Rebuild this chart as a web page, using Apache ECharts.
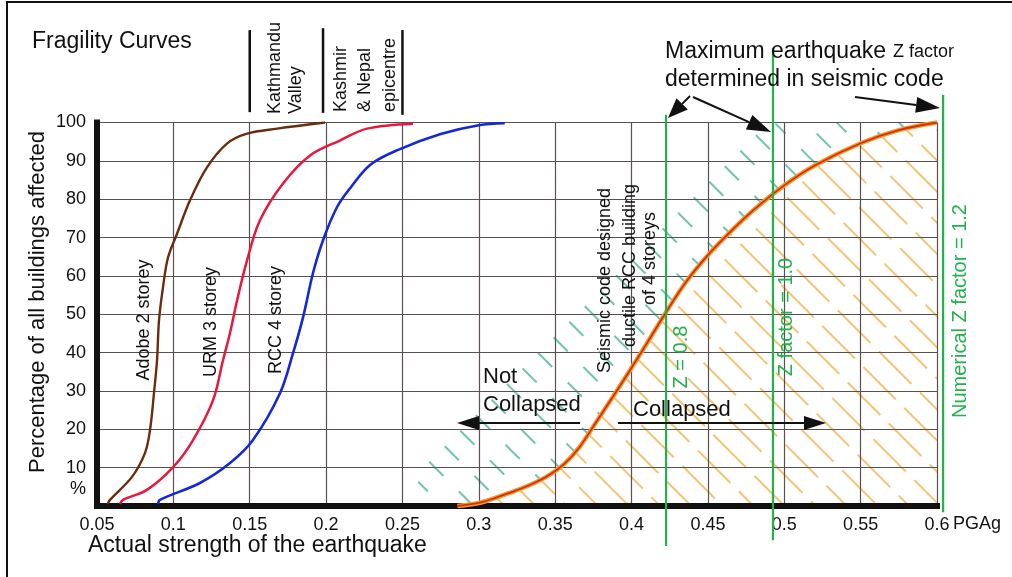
<!DOCTYPE html>
<html><head><meta charset="utf-8">
<script src="https://cdn.jsdelivr.net/npm/echarts@6/dist/echarts.min.js"></script>
<style>html,body{margin:0;padding:0;background:#fff}#c{width:1012px;height:577px}</style>
</head><body><div id="c"></div>
<script>
// ---- data (PGA g, % of buildings affected) ----
const adobe2Storey = [[0.057,0.5],[0.0585,1.6],[0.0729,7.6],[0.0814,13.8],[0.0847,19.8],[0.0873,29.4],[0.0893,38],[0.0906,48.4],[0.0932,57],[0.0965,64.8],[0.1024,71],[0.1109,79.7],[0.122,88.3],[0.1351,94.5],[0.1482,97.1],[0.1679,98.4],[0.1993,100]];
const urm3Storey = [[0.065,0.5],[0.067,1.6],[0.0827,4.2],[0.1,10.2],[0.1129,17.2],[0.126,27.6],[0.1325,38],[0.137,45],[0.1417,53.6],[0.1482,64],[0.1567,74.5],[0.1718,84.1],[0.1895,91.4],[0.209,95.3],[0.2268,98.4],[0.2569,99.7]];
const rcc4Storey = [[0.09,0.5],[0.0912,1.6],[0.1174,6],[0.1371,11.2],[0.1521,17.2],[0.1698,29.4],[0.1783,39.8],[0.1849,49.2],[0.1914,60.7],[0.198,69.3],[0.2071,77.9],[0.216,83],[0.229,89],[0.248,93],[0.275,97],[0.30,99.3],[0.317,99.8]];
const seismicRcc4 = [[0.286,0],[0.30,0.8],[0.31,2],[0.32,3.4],[0.333,5.4],[0.345,7.8],[0.356,11],[0.366,15.4],[0.377,22],[0.388,28.6],[0.399,35.4],[0.41,42.4],[0.423,50.8],[0.436,58.6],[0.45,65.4],[0.465,71.6],[0.48,77.2],[0.50,83.6],[0.52,88.8],[0.55,94.6],[0.575,98],[0.6,100]];
const notCollapsedBand = [[0.255,0],[0.27,15],[0.30,28],[0.33,38],[0.36,50],[0.38,60],[0.40,68],[0.42,78],[0.44,88],[0.47,96],[0.50,100],[0.6,100]];
// reference lines: [PGA, bottom %, top %]
const zFactorLines = [[0.4226,-10.4,102],[0.4926,-8.9,119.5],[0.604,-1.6,107.2]];
const quakeMarkers = [[0.150,102.7,124.1],[0.198,102.5,124.6],[0.250,102,124.1]];
const xTickLabels = ['0.05','0.1','0.15','0.2','0.25','0.3','0.35','0.4','0.45','0.5','0.55','0.6'];
const yTickLabels = ['','10','20','30','40','50','60','70','80','90','100'];

const FONT = "'Liberation Sans', Arial, sans-serif";
const GREEN = '#22b24c';
const INK = '#111';

function vline(color, width){
  return function(params, api){
    const p0 = api.coord([api.value(0), api.value(1)]);
    const p1 = api.coord([api.value(0), api.value(2)]);
    return {type:'line', shape:{x1:p0[0],y1:p0[1],x2:p1[0],y2:p1[1]}, style:{stroke:color, lineWidth:width}};
  };
}
function arrow(x1,y1,x2,y2,len,w){
  const a = Math.atan2(y2-y1, x2-x1);
  const bx = x2-len*Math.cos(a), by = y2-len*Math.sin(a);
  const nx = -Math.sin(a)*w, ny = Math.cos(a)*w;
  return [
    {type:'line', z:100, shape:{x1:x1,y1:y1,x2:bx,y2:by}, style:{stroke:INK, lineWidth:2}},
    {type:'polygon', z:100, shape:{points:[[x2,y2],[bx+nx,by+ny],[bx-nx,by-ny]]}, style:{fill:INK}}
  ];
}
function txt(text, x, y, size, opts){
  opts = opts || {};
  return {type:'text', z:100, x:x, y:y, rotation: opts.rot ? Math.PI/2 : 0,
    style:{text:text, fontSize:size, fontFamily:FONT, fill: opts.color || INK,
      align: opts.align || 'left', verticalAlign:'middle'}};
}

const orangeDecal = {symbol:'rect', symbolSize:1, color:'rgba(240,176,70,0.75)', backgroundColor:'#fff',
  dashArrayX:[[46,12]], dashArrayY:[2,20], rotation:Math.PI/4};
const tealDecal = {symbol:'rect', symbolSize:1, color:'rgba(50,170,145,0.7)',
  dashArrayX:[[20,22]], dashArrayY:[2,20], rotation:Math.PI/4};

const chart = echarts.init(document.getElementById('c'), null, {renderer:'canvas'});
chart.setOption({
  animation:false,
  backgroundColor:'#fff',
  grid:{left:97, right:75, top:122.5, bottom:71, containLabel:false, outerBoundsMode:'none'},
  xAxis:{type:'value', min:0.05, max:0.6, interval:0.05,
    axisLine:{show:true, lineStyle:{color:INK, width:6, cap:'square'}},
    axisTick:{show:false},
    axisLabel:{color:INK, fontSize:18, fontFamily:FONT, margin:10,
      formatter:function(v){ const i=Math.round((v-0.05)/0.05); return xTickLabels[i]; }},
    splitLine:{show:true, lineStyle:{color:'#5a5050', width:1.2}}},
  yAxis:{type:'value', min:0, max:100, interval:10,
    axisLine:{show:true, lineStyle:{color:INK, width:6, cap:'square'}},
    axisTick:{show:false},
    axisLabel:{color:INK, fontSize:18, fontFamily:FONT, margin:11,
      formatter:function(v){ return yTickLabels[Math.round(v/10)]; }},
    splitLine:{show:true, lineStyle:{color:'#5a5050', width:1.2}}},
  series:[
    {type:'line', name:'Not collapsed band', data:notCollapsedBand, z:-2, silent:true, showSymbol:false,
      smooth:0.3, lineStyle:{width:0, opacity:0, decal:tealDecal},
      itemStyle:{decal:tealDecal}, areaStyle:{color:'rgba(255,255,255,0)', opacity:1, decal:tealDecal}},
    {type:'line', name:'Collapsed area', data:seismicRcc4, z:-1, silent:true, showSymbol:false,
      smooth:0.35, lineStyle:{width:0, opacity:0, decal:orangeDecal},
      itemStyle:{decal:orangeDecal}, areaStyle:{color:'#fff', opacity:1, decal:orangeDecal}},
    {type:'line', name:'Adobe 2 storey', data:adobe2Storey, showSymbol:false, smooth:0.35,
      lineStyle:{color:'#6a2c0e', width:2.4}},
    {type:'line', name:'URM 3 storey', data:urm3Storey, showSymbol:false, smooth:0.35,
      lineStyle:{color:'#e8183a', width:2.5}},
    {type:'line', name:'RCC 4 storey', data:rcc4Storey, showSymbol:false, smooth:0.35,
      lineStyle:{color:'#1428d8', width:2.6}},
    {type:'line', name:'Seismic code RCC (halo)', data:seismicRcc4, showSymbol:false, smooth:0.35,
      lineStyle:{color:'#f29a2e', width:4.5}},
    {type:'line', name:'Seismic code RCC', data:seismicRcc4, showSymbol:false, smooth:0.35,
      lineStyle:{color:'#d2300c', width:1.8}},
    {type:'custom', name:'Z factor lines', data:zFactorLines, encode:{x:0, y:[1,2]}, clip:false, z:5,
      renderItem:vline(GREEN, 2.2)},
    {type:'custom', name:'Earthquake markers', data:quakeMarkers, encode:{x:0, y:[1,2]}, clip:false, z:5,
      renderItem:vline(INK, 2.5)}
  ],
  graphic:[
    {type:'rect', z:100, shape:{x:7, y:2, width:1100, height:700}, style:{fill:'none', stroke:INK, lineWidth:2}},
    txt('Fragility Curves', 32, 42, 23),
    txt('Percentage of all buildings affected', 38, 302, 22, {rot:true, align:'center'}),
    txt('Actual strength of the earthquake', 88, 546, 23),
    txt('%', 78, 489, 18, {align:'center'}),
    txt('PGAg', 953, 524, 18),
    txt('Kathmandu', 275, 114, 18, {rot:true}),
    txt('Valley', 296, 114, 18, {rot:true}),
    txt('Kashmir', 341, 112, 18, {rot:true}),
    txt('& Nepal', 365, 112, 18, {rot:true}),
    txt('epicentre', 390, 112, 18, {rot:true}),
    txt('Adobe 2 storey', 144, 320, 18, {rot:true, align:'center'}),
    txt('URM 3 storey', 211, 322, 18, {rot:true, align:'center'}),
    txt('RCC 4 storey', 276, 320, 18, {rot:true, align:'center'}),
    txt('Seismic code designed', 605, 373, 18, {rot:true}),
    txt('ductile RCC building', 630, 347, 18, {rot:true}),
    txt('of 4 storeys', 650, 305, 18, {rot:true}),
    txt('Z = 0.8', 681, 357, 20, {rot:true, align:'center', color:GREEN}),
    txt('Z factor = 1.0', 786, 317, 20, {rot:true, align:'center', color:GREEN}),
    txt('Numerical Z factor = 1.2', 960, 311, 20, {rot:true, align:'center', color:GREEN}),
    txt('Not', 483, 377, 22),
    txt('Collapsed', 483, 405, 22),
    txt('Collapsed', 633, 410, 22),
    txt('Maximum earthquake', 665, 52, 23),
    txt('Z factor', 893, 52, 18),
    txt('determined in seismic code', 665, 80, 23)
  ].concat(arrow(580,423,457,423,22,7))
   .concat(arrow(618,423,826,423,22,7))
   .concat(arrow(690,96,668,118,20,8))
   .concat(arrow(693,97,771,132,24,8))
   .concat(arrow(855,97,940,108,24,8))
});
</script></body></html>
